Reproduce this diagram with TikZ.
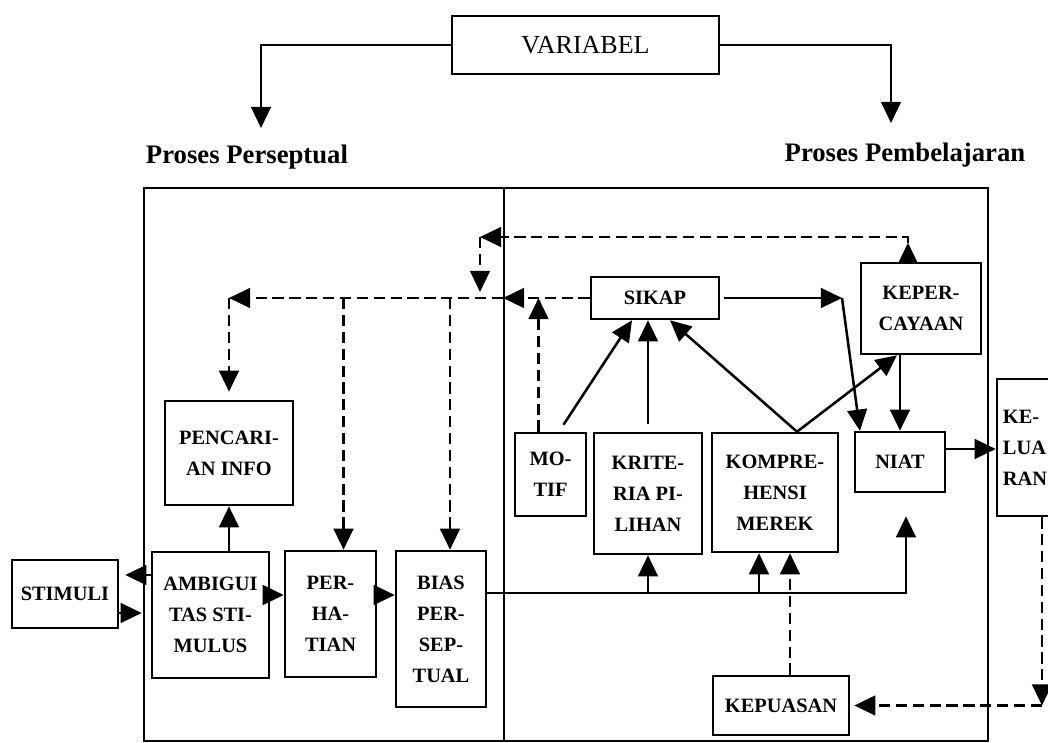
\documentclass[tikz,border=0pt]{standalone}
\usepackage{fontspec}
\setmainfont{Liberation Serif}
\usetikzlibrary{arrows.meta, calc, positioning}

\begin{document}
\begin{tikzpicture}[x=0.025cm, y=-0.025cm,
    kotak/.style={draw, line width=1.8pt, align=center, inner sep=2pt, font=\fontsize{14.5}{22}\selectfont\bfseries},
    judul/.style={font=\fontsize{19}{22}\selectfont\bfseries},
    panah/.style={line width=1.8pt, -{Triangle[length=15pt,width=14pt]}},
    putus/.style={dash pattern=on 8pt off 4pt}]

            % Batas gambar
            \useasboundingbox (0,0) rectangle (1048,743);

            % Judul dan label proses
            \node[kotak, font=\fontsize{18.5}{22}\selectfont, minimum width=6.675cm, minimum height=1.45cm] (var) at (585.5,45) {VARIABEL};
            \node[judul] (persep) at (247,157) {Proses Perseptual};
            \node[judul] (belajar) at (905,155) {Proses Pembelajaran};

            % Bingkai besar
            \draw[line width=1.6pt] (144,188) rectangle (988,741);
            \draw[line width=1.6pt] (504,188) -- (504,741); % Garis pemisah

            % Kotak proses perseptual
            \node[kotak, minimum width=2.65cm, minimum height=1.7cm] (stimuli) at (65,594) {STIMULI};
            \node[kotak, minimum width=3.2cm, minimum height=2.6cm] (pencarian) at (229,453) {PENCARI-\\AN INFO};
            \node[kotak, minimum width=2.925cm, minimum height=3.15cm] (ambig) at (210.5,615) {AMBIGUI\\TAS STI-\\MULUS};
            \node[kotak, minimum width=2.275cm, minimum height=3.15cm] (perhatian) at (330.5,614) {PER-\\HA-\\TIAN};
            \node[kotak, minimum width=2.25cm, minimum height=3.9cm] (bias) at (441,629) {BIAS\\PER-\\SEP-\\TUAL};

            % Kotak proses pembelajaran
            \node[kotak, minimum width=3.2cm, minimum height=1.05cm] (sikap) at (655,298) {SIKAP};
            \node[kotak, minimum width=3cm, minimum height=2.275cm] (kep) at (921,308.5) {KEPER-\\CAYAAN};
            \node[kotak, minimum width=1.775cm, minimum height=2.075cm] (motif) at (550.5,474.5) {MO-\\TIF};
            \node[kotak, minimum width=2.7cm, minimum height=3.025cm] (kriteria) at (648,493.5) {KRITE-\\RIA PI-\\LIHAN};
            \node[kotak, minimum width=3.15cm, minimum height=2.975cm] (kompre) at (775,492.5) {KOMPRE-\\HENSI\\MEREK};
            \node[kotak, minimum width=2.25cm, minimum height=1.5cm] (niat) at (900,462) {NIAT};
            \node[kotak, minimum width=1.95cm, minimum height=3.425cm, text width=1.65cm, align=left] (keluaran) at (1036,447.5) {KE-\\LUA\\RAN};
            \node[kotak, minimum width=3.4cm, minimum height=1.475cm] (kepuasan) at (781,705.5) {KEPUASAN};

            % Panah dari VARIABEL
            \coordinate (ujungKiri) at (261,128);
            \coordinate (ujungKanan) at (891,123);
            \draw[panah] (var.west) -| (ujungKiri);
            \draw[panah] (var.east) -| (ujungKanan);

            % Stimuli dan alur perseptual
            \coordinate (s1) at ([yshift=1cm]ambig.west);
            \draw[panah, shorten >=0.15cm] (s1) -- (s1 -| stimuli.east);
            \coordinate (s2) at ([yshift=-0.475cm]stimuli.east);
            \draw[panah, shorten >=0.225cm] (s2) -- (s2 -| ambig.west);
            \coordinate (a1) at ([yshift=0.5cm]ambig.east);
            \draw[panah] (a1) -- (a1 -| perhatian.west);
            \coordinate (p1) at ([yshift=0.475cm]perhatian.east);
            \draw[panah] (p1) -- (p1 -| bias.west);
            \draw[panah] (pencarian.south |- ambig.north) -- (pencarian.south);

            % Garis bawah dari BIAS
            \coordinate (b1) at ([yshift=0.9cm]bias.east);
            \coordinate (n2) at ([xshift=0.15cm]niat.south);
            \draw[panah, shorten >=0.575cm] (b1) -| (n2);
            \draw[panah] (kriteria.south |- b1) -- (kriteria.south);
            \coordinate (k2) at ([xshift=-0.4cm]kompre.south);
            \draw[panah] (k2 |- b1) -- (k2);
            \coordinate (k3) at ([xshift=0.375cm]kompre.south);
            \draw[panah, putus] (k3 |- kepuasan.north) -- (k3); % Umpan balik kepuasan

            % Panah menuju SIKAP
            \draw[panah] ([xshift=0.325cm,yshift=0.175cm]motif.north) -- ([xshift=-0.575cm]sikap.south);
            \draw[panah] ([yshift=0.2cm]kriteria.north) -- (kriteria.north |- sikap.south);
            \coordinate (kp) at ([xshift=0.55cm]kompre.north);
            \draw[panah] (kp) -- ([xshift=0.375cm]sikap.south);
            \draw[panah] (kp) -- ([xshift=-0.6cm]kep.south);

            % SIKAP dan KEPERCAYAAN ke NIAT
            \coordinate (xBelok) at (842,0);
            \coordinate (belok) at (sikap.east -| xBelok);
            \draw[panah, shorten <=0.1cm] (sikap.east) -- (belok);
            \draw[panah] (belok) -- ([xshift=-1cm]niat.north);
            \draw[panah] (niat.north |- kep.south) -- (niat.north);
            \coordinate (n1) at ([yshift=0.325cm]niat.east);
            \draw[panah] (n1) -- (n1 -| keluaran.west);

            % Umpan balik putus-putus
            \coordinate (kTop) at ([xshift=-0.325cm]kep.north);
            \coordinate (kTip) at ([xshift=-0.325cm,yshift=0.475cm]kep.north);
            \draw[panah] (kTop) -- (kTip);
            \coordinate (atasKiri) at (480,237);
            \draw[panah, putus] (kTip) |- (atasKiri);
            \coordinate (turun) at (atasKiri |- sikap.west);
            \draw[panah, putus, shorten >=0.15cm] (atasKiri) -- (turun);
            \coordinate (batas) at (503,0);
            \coordinate (tengah) at (sikap.west -| batas);
            \draw[panah, putus] (sikap.west) -- (tengah);
            \coordinate (kiriAtas) at (sikap.west -| pencarian.north);
            \draw[panah, putus] (tengah) -- (kiriAtas);
            \draw[panah, putus, shorten >=0.2cm] (kiriAtas) -- (pencarian.north);
            \coordinate (tPer) at ([xshift=0.325cm]perhatian.north);
            \draw[panah, putus] (tPer |- sikap.west) -- (tPer);
            \coordinate (tBias) at ([xshift=0.225cm]bias.north);
            \draw[panah, putus] (tBias |- sikap.west) -- (tBias);
            \coordinate (m1) at ([xshift=-0.3cm]motif.north);
            \draw[panah, putus] (m1) -- (m1 |- sikap.west);

            % KELUARAN ke KEPUASAN
            \coordinate (k1) at ([xshift=0.15cm]keluaran.south);
            \coordinate (k4) at (k1 |- kepuasan.east);
            \draw[panah, putus] (k1) -- (k4);
            \draw[panah, putus, shorten >=0.1cm] (k4) -- (kepuasan.east);

            \end{tikzpicture}
\end{document}
